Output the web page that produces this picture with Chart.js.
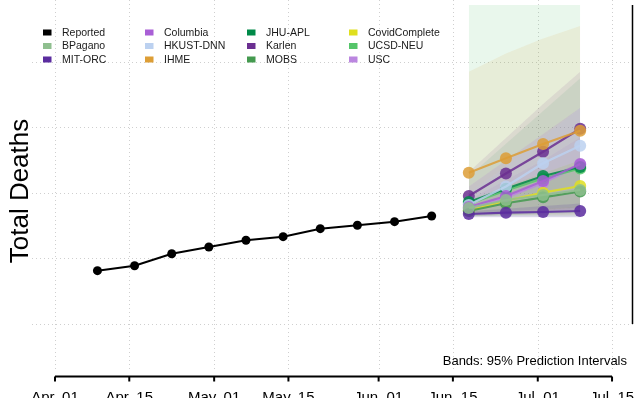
<!DOCTYPE html>
<html>
<head>
<meta charset="utf-8">
<script src="https://cdn.jsdelivr.net/npm/chart.js@4.4.0/dist/chart.umd.min.js"></script>
<style>
    html, body {margin: 0; padding: 0; background: #fff;}
</style>
</head>
<body>
<canvas id="totalDeaths" width="634" height="398"></canvas>
<script>
// days counted from Apr 1 (2022)
const reportedDays = [8, 15, 22, 29, 36, 43, 50, 57, 64, 71];
const reportedDeaths = [1814, 1890, 2073, 2176, 2278, 2333, 2455, 2507, 2562, 2649];
const forecastDays = [78, 85, 92, 99];

const models = ['BPagano', 'MIT-ORC', 'Columbia', 'HKUST-DNN', 'IHME', 'JHU-APL', 'Karlen', 'MOBS', 'CovidComplete', 'UCSD-NEU', 'USC'];
const modelColors = ['#8fbf8f', '#5b2c9f', '#a95fd6', '#bcd1f0', '#dd9e36', '#008a48', '#6b2f91', '#449a4f', '#dfdf1e', '#55c56a', '#bb86e0'];
const pointForecasts = [
    [2771, 2893, 2969, 3046],
    [2679, 2699, 2710, 2725],
    [2786, 2954, 3183, 3443],
    [2817, 3099, 3453, 3722],
    [3310, 3531, 3748, 3951],
    [2863, 3064, 3260, 3397],
    [2954, 3298, 3630, 3980],
    [2725, 2843, 2934, 3023],
    [2730, 2882, 3005, 3107],
    [2832, 3038, 3221, 3374],
    [2756, 2931, 3153, 3427],
];
const lower95 = [
    [2650, 2660, 2670, 2680],
    [2630, 2630, 2630, 2630],
    [2660, 2680, 2700, 2720],
    [2650, 2700, 2750, 2800],
    [2650, 2660, 2660, 2660],
    [2690, 2720, 2750, 2780],
    [2680, 2700, 2720, 2740],
    [2640, 2660, 2680, 2700],
    [2660, 2700, 2740, 2780],
    [2640, 2640, 2640, 2640],
    [2650, 2670, 2690, 2710],
];
const upper95 = [
    [2900, 3100, 3300, 3500],
    [2720, 2760, 2800, 2840],
    [3100, 3500, 3900, 4300],
    [3000, 3400, 3850, 4300],
    [4850, 5130, 5360, 5550],
    [3250, 3750, 4250, 4750],
    [3320, 3840, 4360, 4850],
    [2850, 3050, 3250, 3450],
    [2850, 3100, 3300, 3500],
    [9000, 9000, 9000, 9000],
    [2900, 3200, 3500, 3850],
];

const tickDays = [0, 14, 30, 44, 61, 75, 91, 105];
const tickLabels = ['Apr. 01', 'Apr. 15', 'May. 01', 'May. 15', 'Jun. 01', 'Jun. 15', 'Jul. 01', 'Jul. 15'];
const gridDeaths = [1000, 2000, 3000, 4000, 5000];

// legend is filled column by column, like the R plot
const legendNames = ['Reported', 'BPagano', 'MIT-ORC', 'Columbia', 'HKUST-DNN', 'IHME', 'JHU-APL', 'Karlen', 'MOBS', 'CovidComplete', 'UCSD-NEU', 'USC'];

const FONT = '"Liberation Sans", Arial, Helvetica, sans-serif';

function rgba(hex, a) {
    const n = parseInt(hex.slice(1), 16);
    return `rgba(${n >> 16},${(n >> 8) & 255},${n & 255},${a})`;
}
function pts(xs, ys) {
    return xs.map((x, i) => ({x: x, y: ys[i]}));
}

const datasets = [];
// bands first in the list but drawn under everything (higher order)
models.forEach((name, i) => {
    let a = 0.13;
    if (name === 'IHME') a = 0.11;
    if (name === 'Karlen') a = 0.11;
    if (name === 'JHU-APL') a = 0.08;
    if (name === 'MIT-ORC') a = 0.17;
    datasets.push({
        label: name + ' upper',
        data: pts(forecastDays, upper95[i]),
        fill: '+1',
        backgroundColor: rgba(modelColors[i], a),
        borderWidth: 0,
        pointRadius: 0,
        order: 5,
    });
    datasets.push({
        label: name + ' lower',
        data: pts(forecastDays, lower95[i]),
        fill: false,
        borderWidth: 0,
        pointRadius: 0,
        order: 5,
    });
});
models.forEach((name, i) => {
    datasets.push({
        label: name,
        data: pts(forecastDays, pointForecasts[i]),
        borderColor: rgba(modelColors[i], 0.85),
        backgroundColor: rgba(modelColors[i], 0.85),
        borderWidth: 2.2,
        pointRadius: 6,
        pointBorderWidth: 0,
        order: 2,
    });
});
datasets.push({
    label: 'Reported',
    data: pts(reportedDays, reportedDeaths),
    borderColor: '#000',
    backgroundColor: '#000',
    borderWidth: 2,
    pointRadius: 4.5,
    pointBorderWidth: 0,
    order: 1,
});

const gridLines = {
    id: 'gridLines',
    beforeDatasetsDraw(chart) {
        const {ctx, chartArea, scales: {x, y}} = chart;
        ctx.save();
        ctx.strokeStyle = '#cfcfcf';
        ctx.lineWidth = 1;
        ctx.setLineDash([1, 3]);
        tickDays.forEach(d => {
            const px = Math.round(x.getPixelForValue(d)) + 0.5;
            ctx.beginPath();
            ctx.moveTo(px, 0);
            ctx.lineTo(px, chartArea.bottom);
            ctx.stroke();
        });
        gridDeaths.forEach(v => {
            const py = Math.round(y.getPixelForValue(v)) + 0.5;
            ctx.beginPath();
            ctx.moveTo(chartArea.left, py);
            ctx.lineTo(chart.width, py);
            ctx.stroke();
        });
        ctx.restore();
    }
};

const decorations = {
    id: 'decorations',
    afterDraw(chart) {
        const {ctx, chartArea, scales: {x, y}} = chart;
        ctx.save();
        // bottom axis, R style (only from first to last tick)
        const axisY = chartArea.bottom + 6.5;
        ctx.strokeStyle = '#000';
        ctx.lineWidth = 2;
        ctx.beginPath();
        ctx.moveTo(x.getPixelForValue(tickDays[0]), axisY);
        ctx.lineTo(x.getPixelForValue(tickDays[tickDays.length - 1]), axisY);
        ctx.stroke();
        ctx.fillStyle = '#000';
        ctx.font = '15px ' + FONT;
        ctx.textAlign = 'center';
        ctx.textBaseline = 'alphabetic';
        tickDays.forEach((d, i) => {
            const px = x.getPixelForValue(d);
            ctx.beginPath();
            ctx.moveTo(px, axisY);
            ctx.lineTo(px, axisY + 5);
            ctx.stroke();
            ctx.fillText(tickLabels[i], px, 402);
        });

        // right frame line
        ctx.lineWidth = 1.5;
        ctx.beginPath();
        ctx.moveTo(632.5, chartArea.top);
        ctx.lineTo(632.5, y.getPixelForValue(gridDeaths[0]));
        ctx.stroke();

        // y title
        ctx.save();
        ctx.translate(28, 191);
        ctx.rotate(-Math.PI / 2);
        ctx.font = '26px ' + FONT;
        ctx.fillText('Total Deaths', 0, 0);
        ctx.restore();

        // legend
        ctx.font = '10.5px ' + FONT;
        ctx.textAlign = 'left';
        ctx.textBaseline = 'middle';
        legendNames.forEach((name, k) => {
            const col = Math.floor(k / 3), row = k % 3;
            const lx = 43 + col * 102, ly = 32.5 + row * 13.5;
            const idx = models.indexOf(name);
            ctx.fillStyle = name === 'Reported' ? '#000' : modelColors[idx];
            ctx.fillRect(lx, ly - 3, 8.5, 6);
            ctx.fillStyle = '#1a1a1a';
            ctx.fillText(name, lx + 19, ly + 0.5);
        });

        ctx.font = '13px ' + FONT;
        ctx.textAlign = 'right';
        ctx.textBaseline = 'alphabetic';
        ctx.fillStyle = '#000';
        ctx.fillText('Bands: 95% Prediction Intervals', 627, 364.5);
        ctx.restore();
    }
};

new Chart(document.getElementById('totalDeaths').getContext('2d'), {
    type: 'line',
    data: {datasets: datasets},
    options: {
        responsive: false,
        animation: false,
        devicePixelRatio: 1,
        layout: {autoPadding: false, padding: {left: 32, right: 0, top: 5, bottom: 28}},
        scales: {
            x: {type: 'linear', min: -4.336, max: 109.14, display: false},
            y: {type: 'linear', min: 297.7, max: 5870, display: false},
        },
        plugins: {
            legend: {display: false},
            tooltip: {enabled: false},
        },
    },
    plugins: [gridLines, decorations],
});
</script>
</body>
</html>
